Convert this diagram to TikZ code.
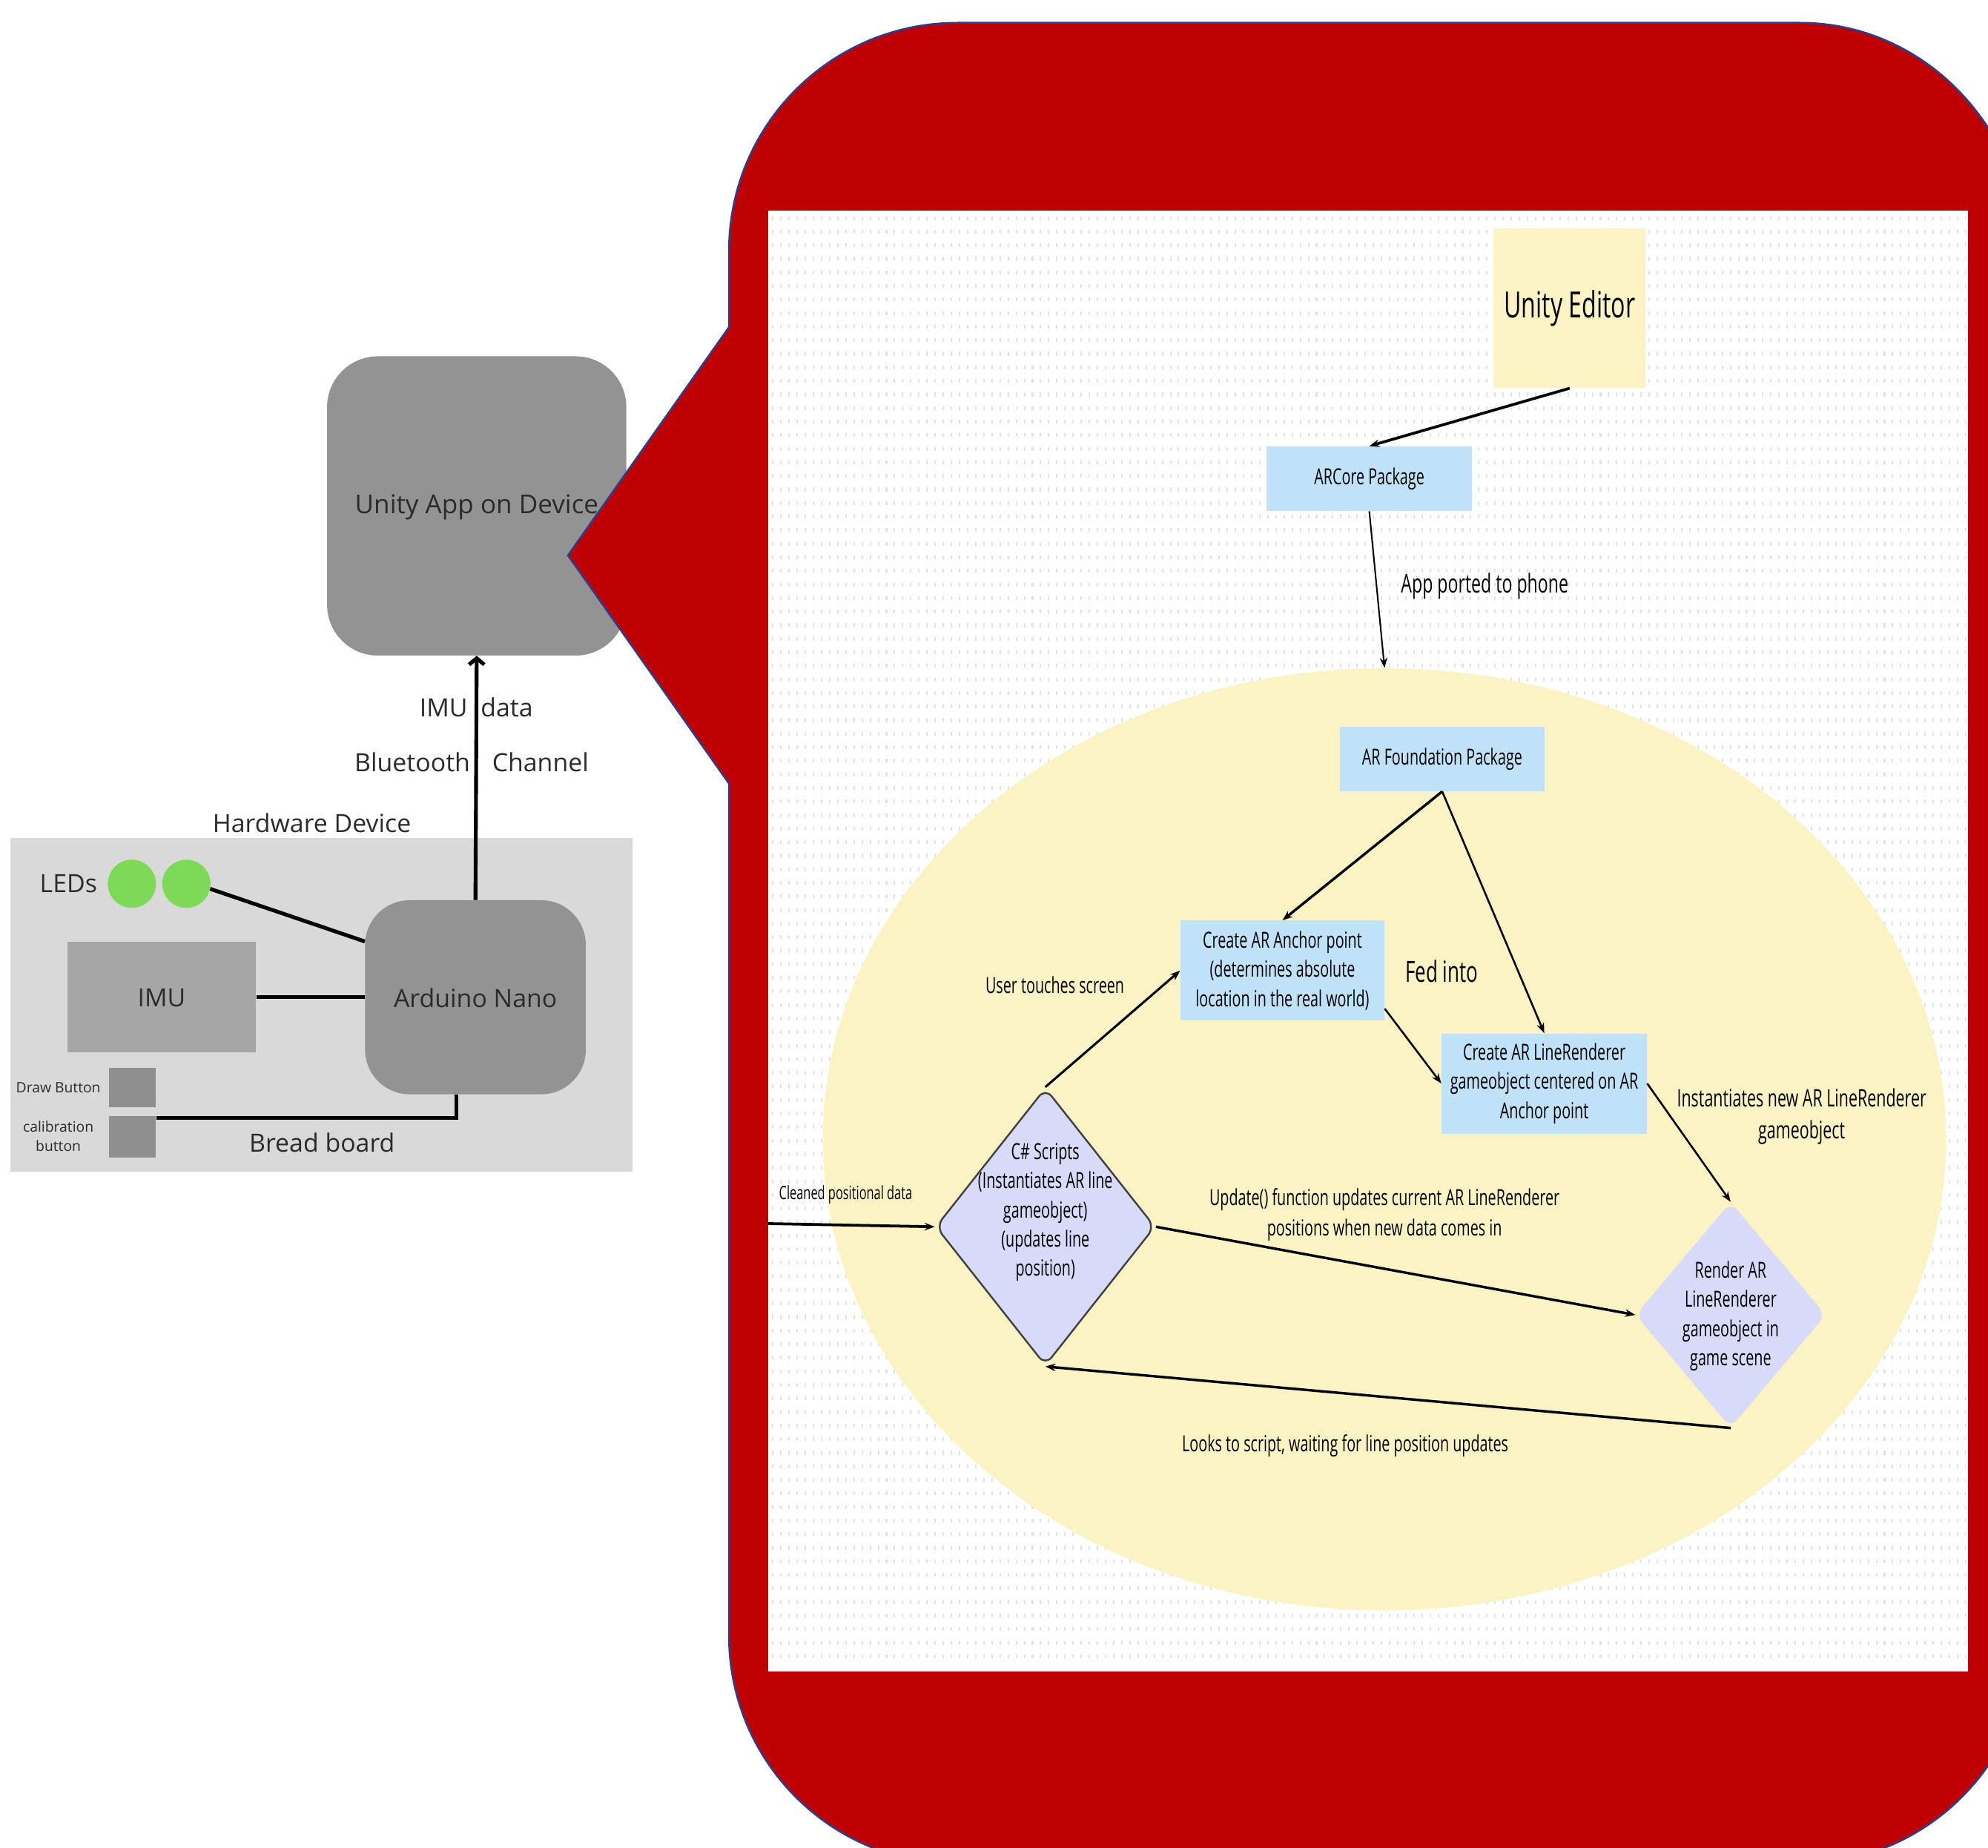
\documentclass[tikz,border=0pt]{standalone}
\usepackage{fontspec}
\setmainfont{Open Sans}
\newfontfamily\cond[FakeStretch=0.66]{Open Sans}
\usetikzlibrary{shapes.geometric,arrows.meta,calc}
\definecolor{redbg}{HTML}{BF0000}
\definecolor{navyedge}{HTML}{2F3C8C}
\definecolor{devgray}{HTML}{939393}
\definecolor{boardgray}{HTML}{D9D9D9}
\definecolor{imugray}{HTML}{A6A6A6}
\definecolor{btngray}{HTML}{8F8F8F}
\definecolor{ledgreen}{HTML}{7ED957}
\definecolor{paleyellow}{HTML}{FCF3C4}
\definecolor{paleblue}{HTML}{BFE2F9}
\definecolor{lavender}{HTML}{D8DAFA}
\definecolor{dotgray}{HTML}{E2E2E2}
\definecolor{txtgray}{HTML}{2B2B2B}
\begin{document}
\begin{tikzpicture}[x=1pt,y=-1pt,
  hwtext/.style={text=txtgray, inner sep=0pt, font=\fontsize{19.8}{23}\selectfont},
  smalltext/.style={text=txtgray, inner sep=0pt, align=center, font=\fontsize{11.3}{15}\selectfont},
  devbox/.style={fill=devgray, rounded corners=#1, inner sep=0pt},
  plainbox/.style={inner sep=0pt},
  wire/.style={line width=3pt, black},
  flowbox/.style={inner sep=0pt, align=center, font=\cond\fontsize{17.5}{23}\selectfont},
  flowtext/.style={inner sep=0pt, align=center, font=\cond\fontsize{17.5}{24}\selectfont},
  flowarrow/.style={-{Stealth[length=8pt,width=6pt]}, line width=1.6pt, black},
  decision/.style={diamond, fill=lavender, inner sep=0pt, rounded corners=8pt}
]
\fill[white] (0,0) rectangle (1568,1457);
\clip (0,0) rectangle (1568,1457);

% ---------- left: hardware side ----------
\node[devbox=40pt, minimum width=236pt, minimum height=236pt] (app) at (376,399) {};
\node[hwtext, font=\fontsize{20.5}{24}\selectfont] (apptext) at (376,400) {Unity App on Device};

\node[plainbox, fill=boardgray, minimum width=491pt, minimum height=263pt] (board) at (253.5,792.5) {};
\node[hwtext] (hwlabel) at (246,649) {Hardware Device};
\node[hwtext] (ledlabel) at (54,697) {LEDs};
\node[circle, fill=ledgreen, minimum size=38pt, inner sep=0pt] (led1) at (104,697) {};
\node[circle, fill=ledgreen, minimum size=38pt, inner sep=0pt] (led2) at (147,697) {};
\node[plainbox, fill=imugray, minimum width=149pt, minimum height=87pt] (imu) at (127.5,786.5) {};
\node[hwtext] (imutext) at (127.5,787) {IMU};
\node[devbox=35pt, minimum width=174pt, minimum height=153pt] (nano) at (375,786.5) {};
\node[hwtext] (nanotext) at (375,787) {Arduino Nano};
\node[plainbox, fill=btngray, minimum width=37pt, minimum height=31pt] (drawbtn) at (104.5,857.5) {};
\node[plainbox, fill=btngray, minimum width=37pt, minimum height=33pt] (calib) at (104.5,896.5) {};
\node[smalltext] (drawlabel) at (46,858) {Draw Button};
\node[smalltext] (caliblabel) at (46,896) {calibration\\button};
\node[hwtext] (bread) at (254,901) {Bread board};

\draw[wire] (led2.-12) -- ([yshift=44pt]nano.west);
\draw[wire] (imu.east) -- (nano.west);
\draw[wire] ([yshift=-2pt]calib.north east) -| ([xshift=-15pt]nano.south);
\draw[wire, -{Straight Barb[length=5pt,width=12pt]}] (nano.north) -- (app.south);

\node[hwtext, anchor=east] (imul) at (369,558) {IMU};
\node[hwtext, anchor=west] (datal) at (379,558) {data};
\node[hwtext, anchor=east] (btl) at (371,601) {Bluetooth};
\node[hwtext, anchor=west] (chl) at (388,601) {Channel};

% ---------- red callout ----------
\path[fill=redbg, draw=navyedge, line width=1.5pt]
 (575,618) -- (575,1290) .. controls (575,1389.4) and (655.6,1470) .. (755,1470)
 -- (1420,1470) .. controls (1519.4,1470) and (1600,1389.4) .. (1600,1290)
 -- (1600,210) .. controls (1600,104) and (1519.4,18) .. (1420,18)
 -- (755,18) .. controls (655.6,18) and (575,98.6) .. (575,198)
 -- (575,258) -- (448,438) -- cycle;

% ---------- software panel ----------
\fill[white] (606,166) rectangle (1552,1318);
\foreach \yy in {172,182.7,...,1314}
  \draw[dotgray, line width=3pt, dash pattern=on 1.2pt off 5.2pt] (609,\yy) -- (1550,\yy);

\node[ellipse, fill=paleyellow, minimum width=886pt, minimum height=743pt, inner sep=0pt] (zone) at (1092,898.5) {};

\node[flowbox, fill=paleyellow, minimum width=120pt, minimum height=126pt,
      font=\cond\fontsize{28.5}{34}\selectfont] (ue) at (1238,243) {Unity Editor};
\node[flowbox, fill=paleblue, minimum width=162pt, minimum height=51pt] (arcore) at (1080,377.5) {ARCore Package};
\node[flowbox, fill=paleblue, minimum width=161pt, minimum height=51pt] (arf) at (1137.5,598.5) {AR Foundation Package};
\node[flowbox, fill=paleblue, minimum width=161pt, minimum height=79pt] (anchor) at (1011.5,765.5)
  {Create AR Anchor point\\(determines absolute\\location in the real world)};
\node[flowbox, fill=paleblue, minimum width=162pt, minimum height=79pt] (lr) at (1218,854.5)
  {Create AR LineRenderer\\gameobject centered on AR\\Anchor point};

\node[decision, draw=black!75, line width=1.4pt, minimum width=173pt, minimum height=219pt] (cs) at (824.5,967.5) {};
\node[flowbox] (cstext) at (824.5,956) {C\# Scripts\\(Instantiates AR line\\gameobject)\\(updates line\\position)};
\node[decision, minimum width=150pt, minimum height=178pt] (render) at (1365,1037) {};
\node[flowbox] (rendertext) at (1365,1038) {Render AR\\LineRenderer\\gameobject in\\game scene};

\coordinate (datain) at (606,965);

\draw[flowarrow, line width=2.2pt] (ue.south) -- (arcore.north);
\draw[flowarrow, line width=1.2pt] (arcore.south) -- (zone.north);
\draw[flowarrow, line width=2pt] (arf.south) -- (anchor.north);
\draw[flowarrow, line width=1.5pt] (arf.south) -- (lr.north);
\draw[flowarrow, line width=1.5pt] ([yshift=-30pt]anchor.east) -- (lr.west);
\draw[flowarrow, line width=1.5pt] (lr.east) -- (render.north);
\draw[flowarrow, line width=1.8pt] (cs.north) -- (anchor.west);
\draw[flowarrow, line width=2.2pt] (datain) -- (cs.west);
\draw[flowarrow, line width=2pt] (cs.east) -- (render.west);
\draw[flowarrow, line width=2pt] (render.south) -- (cs.south);

\node[flowtext, font=\cond\fontsize{20.5}{24}\selectfont] (lport) at (1171,462) {App ported to phone};
\node[flowtext, font=\cond\fontsize{23}{26}\selectfont] (lfed) at (1137,766) {Fed into};
\node[flowtext] (ltouch) at (832,777) {User touches screen};
\node[flowtext, font=\cond\fontsize{19}{25}\selectfont] (linst) at (1421,880.5) {Instantiates new AR LineRenderer\\gameobject};
\node[flowtext, font=\cond\fontsize{14.5}{17}\selectfont] (lclean) at (667,942) {Cleaned positional data};
\node[flowtext] (lupd) at (1092,958) {Update() function updates current AR LineRenderer\\positions when new data comes in};
\node[flowtext] (llook) at (1061,1140) {Looks to script, waiting for line position updates};
\end{tikzpicture}
\end{document}
